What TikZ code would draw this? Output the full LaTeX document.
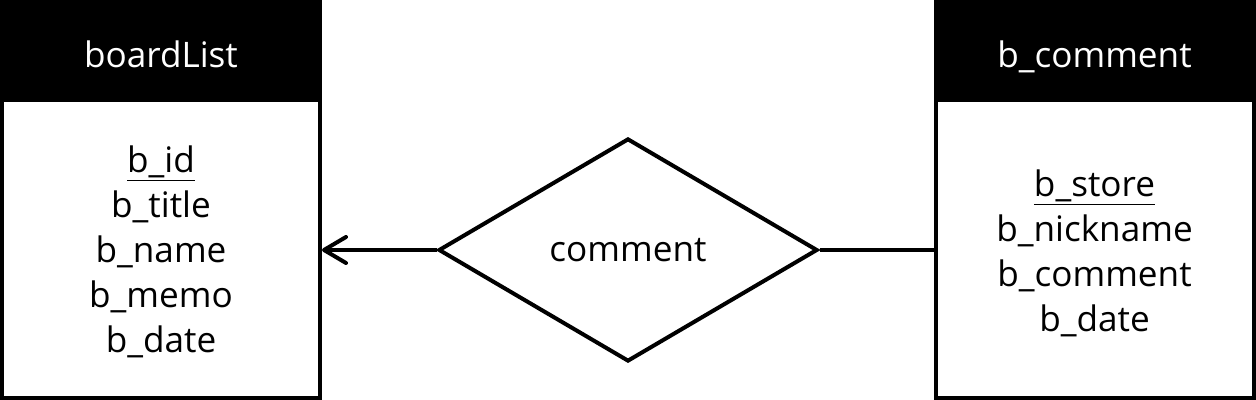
\documentclass[tikz,border=0pt]{standalone}
\usepackage{fontspec}
\setmainfont{Open Sans}
\usetikzlibrary{shapes, arrows.meta, positioning, calc}

\begin{document}
\begin{tikzpicture}[
				% Define styles
				entitybox/.style={rectangle, draw=black, line width=0.08cm, minimum width=6.36cm, minimum height=7.92cm, inner sep=0pt, fill=white},
				headerbox/.style={rectangle, fill=black, minimum width=6.44cm, text height=1.38cm, text depth=0.70cm, inner sep=0pt, text=white, font=\fontsize{20}{25.6}\selectfont},
				attrtext/.style={align=center, font=\fontsize{20}{25.6}\selectfont, inner sep=0pt},
				relnode/.style={diamond, draw=black, line width=0.08cm, minimum width=7.58cm, minimum height=4.46cm, inner sep=0pt, font=\fontsize{20}{25.6}\selectfont},
				relarrow/.style={-{Straight Barb[length=0.44cm, width=0.52cm, round]}, line width=0.08cm},
				relline/.style={line width=0.08cm}
				]
				\useasboundingbox (0,0) rectangle (25.12,8);
				
				% Entities
				\node[entitybox] (board) at (3.22,4) {};
				\node[headerbox, anchor=north] (boardhead) at ($(board.north)+(0,0.04)$) {boardList};
				\node[attrtext] (boardattr) at (3.22,2.96) {\underline{b\_id}\\b\_title\\b\_name\\b\_memo\\b\_date};
				
				\node[entitybox] (cmt) at (21.89,4) {};
				\node[headerbox, anchor=north] (cmthead) at ($(cmt.north)+(0,0.04)$) {b\_comment};
				\node[attrtext] (cmtattr) at (21.89,2.94) {\underline{b\_store}\\b\_nickname\\b\_comment\\b\_date};
				
				% Relationship
				\node[relnode] (rel) at (12.56,3) {comment};
				
				% Connectors
				\draw[relarrow] (rel.west) -- (board.east |- rel.west);
				\draw[relline] (rel.east) -- (cmt.west |- rel.east);
				
			\end{tikzpicture}
\end{document}
